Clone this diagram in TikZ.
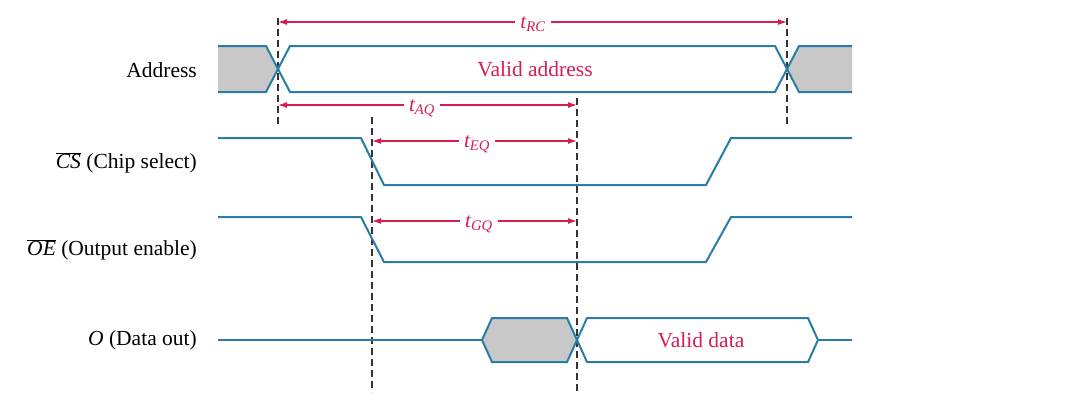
\documentclass[tikz,border=0pt]{standalone}
\usepackage{fontspec}
\setmainfont{Liberation Serif}
\usetikzlibrary{arrows.meta}
\definecolor{sig}{RGB}{40,125,165}
\definecolor{lab}{RGB}{215,30,80}
\definecolor{fillg}{RGB}{200,200,200}
\begin{document}
\begin{tikzpicture}[x=1pt,y=-1pt,
  sigline/.style={draw=sig,line width=2pt,line join=miter},
  busfill/.style={fill=fillg},
  guide/.style={draw=black!80,line width=1.2pt,dash pattern=on 7pt off 4pt},
  dim/.style={draw=lab,line width=1.2pt,{Latex[length=9pt,width=6pt]}-{Latex[length=9pt,width=6pt]}},
  dimlab/.style={fill=white,text=lab,font=\fontsize{21}{24}\selectfont\itshape,inner xsep=5pt,inner ysep=1pt},
  sigtext/.style={font=\fontsize{21.5}{24}\selectfont,anchor=east,inner sep=0pt},
  valtext/.style={text=lab,font=\fontsize{21.5}{24}\selectfont,inner sep=0pt}]
\useasboundingbox[fill=white] (0,0) rectangle (1077,416);

% guide coordinates
\coordinate (g1t) at (278,18);  \coordinate (g1b) at (278,127);
\coordinate (g2t) at (787,18);  \coordinate (g2b) at (787,127);
\coordinate (g3t) at (372,117); \coordinate (g3b) at (372,392);
\coordinate (g4t) at (577,98);  \coordinate (g4b) at (577,392);

% fills
\fill[busfill] (218,46) -- (266,46) -- (278,69) -- (266,92) -- (218,92) -- cycle;
\fill[busfill] (852,46) -- (799,46) -- (787,69) -- (799,92) -- (852,92) -- cycle;
\path[busfill] (482,340) -- (492,318) -- (567,318) -- (577,340) -- (567,362) -- (492,362) -- cycle;

% guides
\draw[guide] (g1t) -- (g1b);
\draw[guide] (g2t) -- (g2b);
\draw[guide] (g3t) -- (g3b);
\draw[guide] (g4t) -- (g4b);

% Address bus
\draw[sigline] (218,46) -- (266,46) -- (290,92) -- (775,92) -- (799,46) -- (852,46);
\draw[sigline] (218,92) -- (266,92) -- (290,46) -- (775,46) -- (799,92) -- (852,92);
\node[valtext] (va) at (535,69) {Valid address};

% CS
\draw[sigline] (218,138) -- (361,138) -- (384,185) -- (706,185) -- (731,138) -- (852,138);
% OE
\draw[sigline] (218,217) -- (361,217) -- (384,262) -- (706,262) -- (731,217) -- (852,217);
% Data out
\draw[sigline] (218,340) -- (482,340);
\draw[sigline] (482,340) -- (492,318) -- (567,318) -- (577,340) -- (567,362) -- (492,362) -- cycle;
\draw[sigline] (577,340) -- (587,318) -- (808,318) -- (818,340) -- (808,362) -- (587,362) -- cycle;
\draw[sigline] (818,340) -- (852,340);
\node[valtext] (vd) at (701,340) {Valid data};

% signal names
\node[sigtext] (nA)  at (197,70)  {Address};
\node[sigtext] (nCS) at (197,163) {$\overline{\mbox{\textit{CS}}}$ (Chip select)};
\node[sigtext] (nOE) at (197,250) {$\overline{\mbox{\textit{OE}}}$ (Output enable)};
\node[sigtext] (nO)  at (197,340) {\textit{O} (Data out)};

% timing dimensions
\coordinate (rcL) at (g1t |- 0,22);  \coordinate (rcR) at (g2t |- 0,22);
\coordinate (aqL) at (g1t |- 0,105); \coordinate (aqR) at (g4t |- 0,105);
\coordinate (eqL) at (g3t |- 0,141); \coordinate (eqR) at (g4t |- 0,141);
\coordinate (gqL) at (g3t |- 0,221); \coordinate (gqR) at (g4t |- 0,221);
\draw[dim] (rcL) -- (rcR);
\draw[dim] (aqL) -- (aqR);
\draw[dim] (eqL) -- (eqR);
\draw[dim] (gqL) -- (gqR);
\node[dimlab] (tRC) at (533,24)  {t\textsubscript{RC}};
\node[dimlab] (tAQ) at (422,108) {t\textsubscript{AQ}};
\node[dimlab] (tEQ) at (477,144) {t\textsubscript{EQ}};
\node[dimlab] (tGQ) at (479,224) {t\textsubscript{GQ}};
\end{tikzpicture}
\end{document}
